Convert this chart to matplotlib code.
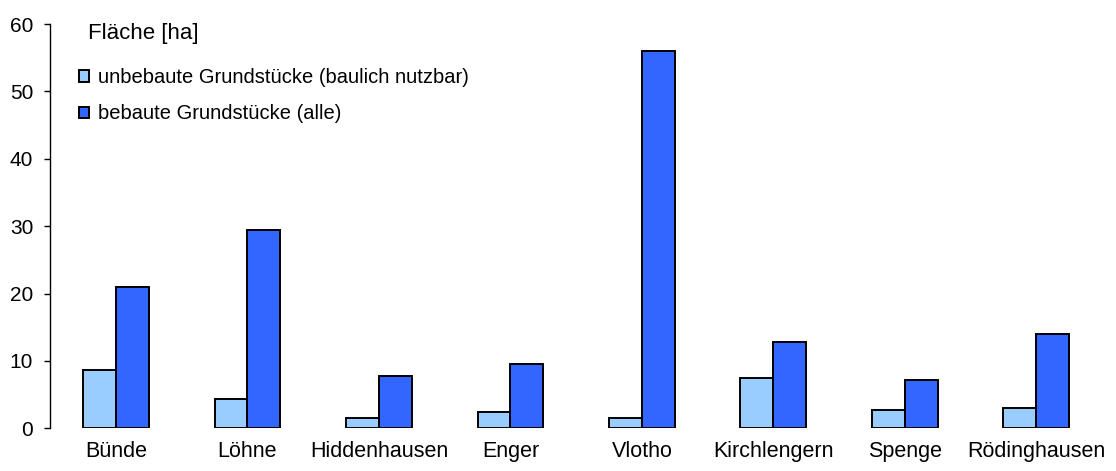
import numpy as np
import matplotlib.pyplot as plt

plt.rcParams['font.family'] = ['Liberation Sans', 'DejaVu Sans']

# --- data
orte = ["Bünde", "Löhne", "Hiddenhausen", "Enger", "Vlotho",
        "Kirchlengern", "Spenge", "Rödinghausen"]
unbebaut = [8.6, 4.4, 1.5, 2.4, 1.5, 7.4, 2.7, 3.0]
bebaut = [21.0, 29.4, 7.7, 9.5, 56.0, 12.8, 7.1, 14.0]
yticks = [0, 10, 20, 30, 40, 50, 60]

label_unbebaut = "unbebaute Grundstücke (baulich nutzbar)"
label_bebaut = "bebaute Grundstücke (alle)"
einheit = "Fläche [ha]"

c_light = "#99CCFF"
c_dark = "#3366FF"

fig = plt.figure(figsize=(11.16, 4.71), dpi=100)
ax = fig.add_axes([0.045, 0.0907, 0.9425, 0.8583])

x = np.arange(len(orte))
w = 0.25
b1 = ax.bar(x - w / 2, unbebaut, w, color=c_light, edgecolor="black", linewidth=1.4,
            label=label_unbebaut)
b2 = ax.bar(x + w / 2, bebaut, w, color=c_dark, edgecolor="black", linewidth=1.4,
            label=label_bebaut)

ax.set_xlim(-0.5, len(orte) - 0.5)
ax.set_ylim(0, 60)
ax.set_yticks(yticks)
ax.set_xticks(x)
ax.set_xticklabels(orte, fontsize=15.5)
ax.tick_params(axis="y", labelsize=15, length=4.3, width=1, direction="out", pad=8)
ax.tick_params(axis="x", length=0, pad=9)

for s in ["top", "right", "bottom"]:
    ax.spines[s].set_visible(False)
ax.spines["left"].set_linewidth(1)

ax.text(0.079, 0.928, einheit, transform=fig.transFigure, fontsize=16,
        ha="left", va="center")
leg = ax.legend(handles=[b1, b2], loc="upper left", bbox_to_anchor=(0.071, 0.855),
                bbox_transform=fig.transFigure, frameon=False, fontsize=14.5,
                handlelength=0.5, handleheight=0.5, handletextpad=0.45,
                labelspacing=0.85, borderpad=0, borderaxespad=0)

fig.savefig("out.png", dpi=100)
